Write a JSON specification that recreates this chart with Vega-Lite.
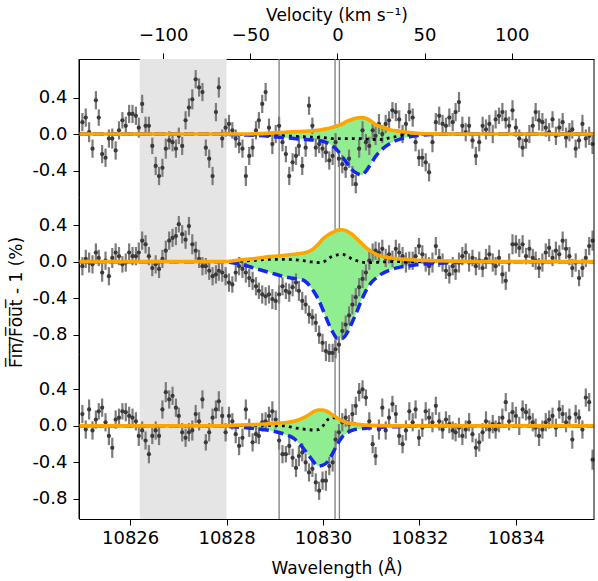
{
"$schema": "https://vega.github.io/schema/vega-lite/v6.json",
"autosize": {"type": "pad"},
"padding": {"left": 6, "top": 6, "right": 3, "bottom": 3},
"background": "white",
"spacing": 0,
"bounds": "flush",
"config": {
  "view": {"stroke": null},
  "font": "DejaVu Sans",
  "axis": {"grid": false, "domainColor": "black", "tickColor": "black", "labelColor": "black", "titleColor": "black", "labelFontSize": 18, "titleFontSize": 17, "titleFontWeight": "normal", "tickSize": 6, "domainWidth": 1, "tickWidth": 1, "labelFont": "DejaVu Sans", "titleFont": "DejaVu Sans", "labelFlush": false}
},
"datasets": {
  "band": [{"w": 10826.2, "w2": 10828.0}],
  "lines": [{"w": 10829.09}, {"w": 10830.25}, {"w": 10830.34}],
  "frame": [{"w": 10824.94}, {"w": 10835.62}],
  "vel": [{"v": -148.37}, {"v": 147.26}],
  "mod": [
    {"w":10824.94,"io":0,"ib":0,"ik":0,"mo":0,"mb":0,"mk":0,"eo":0,"eb":0,"ek":0},
    {"w":10826.0,"io":0,"ib":0,"ik":0,"mo":0,"mb":0,"mk":0,"eo":0,"eb":0,"ek":0},
    {"w":10827.0,"io":0,"ib":0,"ik":0,"mo":0,"mb":0,"mk":0,"eo":0,"eb":0,"ek":0},
    {"w":10827.9,"io":0,"ib":0,"ik":0,"mo":0,"mb":0,"mk":0,"eo":0,"eb":0,"ek":0},
    {"w":10828.0,"io":0,"ib":-0.003,"ik":0,"mo":0.002,"mb":-0.005,"mk":0,"eo":0.002,"eb":-0.005,"ek":0},
    {"w":10828.3,"io":0,"ib":-0.01,"ik":-0.005,"mo":0.02,"mb":-0.03,"mk":0.005,"eo":0.01,"eb":-0.015,"ek":0.005},
    {"w":10828.6,"io":0.003,"ib":-0.015,"ik":-0.01,"mo":0.035,"mb":-0.075,"mk":0.015,"eo":0.015,"eb":-0.03,"ek":0.005},
    {"w":10828.9,"io":0.01,"ib":-0.025,"ik":-0.015,"mo":0.055,"mb":-0.12,"mk":0.025,"eo":0.025,"eb":-0.05,"ek":0.005},
    {"w":10829.2,"io":0.02,"ib":-0.04,"ik":-0.02,"mo":0.07,"mb":-0.165,"mk":0.025,"eo":0.035,"eb":-0.09,"ek":0},
    {"w":10829.4,"io":0.025,"ib":-0.05,"ik":-0.025,"mo":0.08,"mb":-0.185,"mk":0.02,"eo":0.05,"eb":-0.14,"ek":-0.02},
    {"w":10829.6,"io":0.03,"ib":-0.06,"ik":-0.03,"mo":0.095,"mb":-0.205,"mk":0.01,"eo":0.09,"eb":-0.25,"ek":-0.035},
    {"w":10829.7,"io":0.032,"ib":-0.062,"ik":-0.032,"mo":0.11,"mb":-0.25,"mk":0,"eo":0.12,"eb":-0.32,"ek":-0.04},
    {"w":10829.8,"io":0.035,"ib":-0.065,"ik":-0.035,"mo":0.14,"mb":-0.32,"mk":-0.005,"eo":0.155,"eb":-0.39,"ek":-0.045},
    {"w":10829.9,"io":0.042,"ib":-0.07,"ik":-0.037,"mo":0.19,"mb":-0.41,"mk":-0.01,"eo":0.175,"eb":-0.44,"ek":-0.04},
    {"w":10830.0,"io":0.05,"ib":-0.08,"ik":-0.04,"mo":0.25,"mb":-0.53,"mk":-0.005,"eo":0.175,"eb":-0.43,"ek":0},
    {"w":10830.1,"io":0.06,"ib":-0.1,"ik":-0.045,"mo":0.29,"mb":-0.66,"mk":0.03,"eo":0.155,"eb":-0.39,"ek":0.07},
    {"w":10830.2,"io":0.075,"ib":-0.13,"ik":-0.05,"mo":0.32,"mb":-0.77,"mk":0.06,"eo":0.12,"eb":-0.3,"ek":0.09},
    {"w":10830.3,"io":0.09,"ib":-0.18,"ik":-0.05,"mo":0.345,"mb":-0.84,"mk":0.075,"eo":0.085,"eb":-0.2,"ek":0.08},
    {"w":10830.4,"io":0.11,"ib":-0.25,"ik":-0.05,"mo":0.35,"mb":-0.84,"mk":0.08,"eo":0.055,"eb":-0.12,"ek":0.06},
    {"w":10830.5,"io":0.14,"ib":-0.32,"ik":-0.05,"mo":0.335,"mb":-0.78,"mk":0.06,"eo":0.035,"eb":-0.075,"ek":0.045},
    {"w":10830.6,"io":0.16,"ib":-0.39,"ik":-0.05,"mo":0.3,"mb":-0.67,"mk":0.03,"eo":0.025,"eb":-0.05,"ek":0.03},
    {"w":10830.7,"io":0.175,"ib":-0.43,"ik":-0.05,"mo":0.25,"mb":-0.55,"mk":0.01,"eo":0.018,"eb":-0.035,"ek":0.022},
    {"w":10830.8,"io":0.18,"ib":-0.45,"ik":-0.05,"mo":0.2,"mb":-0.42,"mk":-0.005,"eo":0.012,"eb":-0.03,"ek":0.015},
    {"w":10830.9,"io":0.17,"ib":-0.4,"ik":-0.055,"mo":0.15,"mb":-0.31,"mk":-0.01,"eo":0.009,"eb":-0.025,"ek":0.01},
    {"w":10831.0,"io":0.14,"ib":-0.32,"ik":-0.06,"mo":0.11,"mb":-0.23,"mk":-0.01,"eo":0.006,"eb":-0.02,"ek":0.005},
    {"w":10831.1,"io":0.1,"ib":-0.24,"ik":-0.06,"mo":0.08,"mb":-0.18,"mk":-0.008,"eo":0.004,"eb":-0.017,"ek":0.003},
    {"w":10831.2,"io":0.08,"ib":-0.18,"ik":-0.06,"mo":0.06,"mb":-0.14,"mk":-0.005,"eo":0.003,"eb":-0.015,"ek":0.002},
    {"w":10831.4,"io":0.045,"ib":-0.1,"ik":-0.04,"mo":0.04,"mb":-0.09,"mk":0,"eo":0,"eb":-0.01,"ek":0},
    {"w":10831.6,"io":0.03,"ib":-0.055,"ik":-0.02,"mo":0.03,"mb":-0.06,"mk":0,"eo":0,"eb":-0.007,"ek":0},
    {"w":10831.8,"io":0.015,"ib":-0.03,"ik":-0.01,"mo":0.02,"mb":-0.045,"mk":0,"eo":0,"eb":-0.004,"ek":0},
    {"w":10832.0,"io":0.006,"ib":-0.015,"ik":0,"mo":0.015,"mb":-0.03,"mk":0,"eo":0,"eb":0,"ek":0},
    {"w":10832.3,"io":0.002,"ib":-0.005,"ik":0,"mo":0.01,"mb":-0.02,"mk":0,"eo":0,"eb":0,"ek":0},
    {"w":10832.7,"io":0,"ib":0,"ik":0,"mo":0.005,"mb":-0.01,"mk":0,"eo":0,"eb":0,"ek":0},
    {"w":10833.2,"io":0,"ib":0,"ik":0,"mo":0,"mb":-0.005,"mk":0,"eo":0,"eb":0,"ek":0},
    {"w":10834.0,"io":0,"ib":0,"ik":0,"mo":0,"mb":0,"mk":0,"eo":0,"eb":0,"ek":0},
    {"w":10835.62,"io":0,"ib":0,"ik":0,"mo":0,"mb":0,"mk":0,"eo":0,"eb":0,"ek":0}
  ],
  "obs": [
    {"w":10825.01,"ing":0.13,"mid":-0.05,"egr":0.13,"e":0.1},
    {"w":10825.08,"ing":0.18,"mid":0.03,"egr":-0.04,"e":0.1},
    {"w":10825.15,"ing":0.02,"mid":-0.01,"egr":0.18,"e":0.11},
    {"w":10825.22,"ing":-0.16,"mid":-0.03,"egr":-0.05,"e":0.1},
    {"w":10825.29,"ing":0.37,"mid":0.1,"egr":0.07,"e":0.1},
    {"w":10825.35,"ing":0.18,"mid":0.04,"egr":0.16,"e":0.09},
    {"w":10825.42,"ing":-0.22,"mid":-0.12,"egr":0.2,"e":0.1},
    {"w":10825.49,"ing":-0.26,"mid":0.01,"egr":0.04,"e":0.1},
    {"w":10825.56,"ing":-0.05,"mid":-0.16,"egr":-0.11,"e":0.1},
    {"w":10825.63,"ing":-0.05,"mid":0.04,"egr":-0.24,"e":0.11},
    {"w":10825.70,"ing":-0.18,"mid":0.1,"egr":0.07,"e":0.1},
    {"w":10825.77,"ing":0.04,"mid":0.06,"egr":0.09,"e":0.1},
    {"w":10825.84,"ing":0.15,"mid":-0.03,"egr":0.16,"e":0.09},
    {"w":10825.91,"ing":0.09,"mid":-0.01,"egr":0.15,"e":0.1},
    {"w":10825.98,"ing":0.22,"mid":0.1,"egr":0.11,"e":0.1},
    {"w":10826.05,"ing":0.22,"mid":0.06,"egr":0.09,"e":0.1},
    {"w":10826.12,"ing":0.2,"mid":0.06,"egr":0.05,"e":0.1},
    {"w":10826.18,"ing":0.07,"mid":0.1,"egr":-0.11,"e":0.11},
    {"w":10826.25,"ing":0.33,"mid":0.23,"egr":-0.05,"e":0.1},
    {"w":10826.32,"ing":0.09,"mid":0.19,"egr":-0.16,"e":0.1},
    {"w":10826.39,"ing":0.09,"mid":0.06,"egr":-0.31,"e":0.1},
    {"w":10826.46,"ing":-0.13,"mid":-0.07,"egr":-0.11,"e":0.09},
    {"w":10826.53,"ing":-0.35,"mid":-0.03,"egr":-0.05,"e":0.1},
    {"w":10826.60,"ing":-0.46,"mid":-0.08,"egr":-0.11,"e":0.1},
    {"w":10826.67,"ing":-0.37,"mid":0.03,"egr":0.18,"e":0.1},
    {"w":10826.74,"ing":-0.16,"mid":0.12,"egr":0.37,"e":0.11},
    {"w":10826.81,"ing":-0.07,"mid":0.23,"egr":0.29,"e":0.1},
    {"w":10826.88,"ing":-0.09,"mid":0.26,"egr":0.33,"e":0.1},
    {"w":10826.95,"ing":-0.16,"mid":0.28,"egr":0.2,"e":0.1},
    {"w":10827.01,"ing":-0.02,"mid":0.41,"egr":0.11,"e":0.09},
    {"w":10827.08,"ing":-0.13,"mid":0.3,"egr":-0.07,"e":0.1},
    {"w":10827.15,"ing":0.15,"mid":0.24,"egr":-0.13,"e":0.1},
    {"w":10827.22,"ing":0.29,"mid":0.39,"egr":-0.07,"e":0.1},
    {"w":10827.29,"ing":0.38,"mid":0.19,"egr":-0.05,"e":0.11},
    {"w":10827.36,"ing":0.6,"mid":0.12,"egr":0.13,"e":0.1},
    {"w":10827.43,"ing":0.51,"mid":0.03,"egr":0.05,"e":0.1},
    {"w":10827.50,"ing":0.46,"mid":-0.05,"egr":0.29,"e":0.1},
    {"w":10827.57,"ing":-0.15,"mid":-0.05,"egr":-0.18,"e":0.09},
    {"w":10827.64,"ing":-0.27,"mid":-0.1,"egr":-0.07,"e":0.1},
    {"w":10827.71,"ing":-0.46,"mid":-0.16,"egr":0.09,"e":0.1},
    {"w":10827.78,"ing":0.24,"mid":-0.14,"egr":0.18,"e":0.1},
    {"w":10827.84,"ing":0.51,"mid":-0.1,"egr":0.27,"e":0.11},
    {"w":10827.91,"ing":-0.05,"mid":-0.12,"egr":0.11,"e":0.1},
    {"w":10827.98,"ing":0.07,"mid":-0.16,"egr":-0.07,"e":0.1},
    {"w":10828.05,"ing":0.11,"mid":-0.23,"egr":0.11,"e":0.1},
    {"w":10828.12,"ing":0.04,"mid":-0.25,"egr":0.05,"e":0.09},
    {"w":10828.19,"ing":-0.05,"mid":-0.12,"egr":-0.09,"e":0.1},
    {"w":10828.26,"ing":-0.11,"mid":-0.05,"egr":-0.22,"e":0.1},
    {"w":10828.33,"ing":-0.16,"mid":-0.08,"egr":-0.13,"e":0.1},
    {"w":10828.40,"ing":-0.46,"mid":-0.12,"egr":0.18,"e":0.11},
    {"w":10828.47,"ing":-0.24,"mid":-0.18,"egr":-0.02,"e":0.1},
    {"w":10828.54,"ing":-0.15,"mid":-0.21,"egr":-0.18,"e":0.1},
    {"w":10828.61,"ing":0.04,"mid":-0.27,"egr":-0.09,"e":0.1},
    {"w":10828.67,"ing":0.15,"mid":-0.32,"egr":-0.11,"e":0.09},
    {"w":10828.74,"ing":0.33,"mid":-0.36,"egr":0.04,"e":0.1},
    {"w":10828.81,"ing":0.46,"mid":-0.38,"egr":0.05,"e":0.1},
    {"w":10828.88,"ing":0.07,"mid":-0.36,"egr":0.11,"e":0.1},
    {"w":10828.95,"ing":-0.11,"mid":-0.41,"egr":0.16,"e":0.11},
    {"w":10829.02,"ing":0.0,"mid":-0.43,"egr":0.07,"e":0.1},
    {"w":10829.09,"ing":0.09,"mid":-0.36,"egr":-0.16,"e":0.1},
    {"w":10829.16,"ing":-0.09,"mid":-0.27,"egr":-0.31,"e":0.1},
    {"w":10829.23,"ing":-0.22,"mid":-0.32,"egr":-0.31,"e":0.09},
    {"w":10829.30,"ing":-0.46,"mid":-0.34,"egr":-0.22,"e":0.1},
    {"w":10829.37,"ing":-0.31,"mid":-0.28,"egr":-0.35,"e":0.1},
    {"w":10829.44,"ing":-0.24,"mid":-0.23,"egr":-0.46,"e":0.1},
    {"w":10829.50,"ing":-0.13,"mid":-0.32,"egr":-0.33,"e":0.11},
    {"w":10829.57,"ing":-0.35,"mid":-0.43,"egr":-0.29,"e":0.1},
    {"w":10829.64,"ing":-0.15,"mid":-0.47,"egr":-0.4,"e":0.1},
    {"w":10829.71,"ing":0.31,"mid":-0.58,"egr":-0.51,"e":0.1},
    {"w":10829.78,"ing":0.09,"mid":-0.61,"egr":-0.47,"e":0.09},
    {"w":10829.85,"ing":-0.15,"mid":-0.67,"egr":-0.62,"e":0.1},
    {"w":10829.92,"ing":-0.11,"mid":-0.8,"egr":-0.71,"e":0.1},
    {"w":10829.99,"ing":-0.16,"mid":-0.89,"egr":-0.6,"e":0.1},
    {"w":10830.06,"ing":-0.2,"mid":-0.98,"egr":-0.6,"e":0.11},
    {"w":10830.13,"ing":-0.29,"mid":-1.0,"egr":-0.44,"e":0.1},
    {"w":10830.20,"ing":-0.24,"mid":-1.0,"egr":-0.4,"e":0.1},
    {"w":10830.26,"ing":-0.09,"mid":-0.96,"egr":-0.15,"e":0.1},
    {"w":10830.33,"ing":-0.27,"mid":-0.91,"egr":-0.07,"e":0.09},
    {"w":10830.40,"ing":-0.33,"mid":-0.76,"egr":0.04,"e":0.1},
    {"w":10830.47,"ing":-0.38,"mid":-0.69,"egr":0.09,"e":0.1},
    {"w":10830.54,"ing":-0.27,"mid":-0.59,"egr":0.02,"e":0.1},
    {"w":10830.61,"ing":-0.46,"mid":-0.47,"egr":0.13,"e":0.11},
    {"w":10830.68,"ing":-0.55,"mid":-0.39,"egr":0.22,"e":0.1},
    {"w":10830.75,"ing":-0.16,"mid":-0.28,"egr":0.37,"e":0.1},
    {"w":10830.82,"ing":0.04,"mid":-0.19,"egr":0.4,"e":0.1},
    {"w":10830.89,"ing":-0.09,"mid":-0.12,"egr":0.31,"e":0.09},
    {"w":10830.96,"ing":-0.13,"mid":0.01,"egr":0.05,"e":0.1},
    {"w":10831.03,"ing":0.04,"mid":0.1,"egr":-0.2,"e":0.1},
    {"w":10831.09,"ing":-0.02,"mid":0.12,"egr":-0.33,"e":0.1},
    {"w":10831.16,"ing":0.11,"mid":0.1,"egr":-0.04,"e":0.11},
    {"w":10831.23,"ing":0.0,"mid":0.14,"egr":0.2,"e":0.1},
    {"w":10831.30,"ing":0.11,"mid":0.04,"egr":-0.05,"e":0.1},
    {"w":10831.37,"ing":0.15,"mid":0.08,"egr":0.09,"e":0.1},
    {"w":10831.44,"ing":0.26,"mid":0.03,"egr":0.24,"e":0.09},
    {"w":10831.51,"ing":0.24,"mid":0.14,"egr":0.13,"e":0.1},
    {"w":10831.58,"ing":0.16,"mid":0.1,"egr":-0.11,"e":0.1},
    {"w":10831.65,"ing":0.0,"mid":0.06,"egr":-0.2,"e":0.1},
    {"w":10831.72,"ing":0.11,"mid":-0.01,"egr":-0.05,"e":0.11},
    {"w":10831.79,"ing":0.24,"mid":0.01,"egr":0.16,"e":0.1},
    {"w":10831.86,"ing":0.18,"mid":0.01,"egr":0.04,"e":0.1},
    {"w":10831.92,"ing":-0.09,"mid":0.06,"egr":0.18,"e":0.1},
    {"w":10831.99,"ing":-0.26,"mid":0.17,"egr":-0.13,"e":0.09},
    {"w":10832.06,"ing":-0.26,"mid":0.08,"egr":-0.02,"e":0.1},
    {"w":10832.13,"ing":-0.31,"mid":-0.01,"egr":0.16,"e":0.1},
    {"w":10832.20,"ing":-0.42,"mid":-0.05,"egr":0.09,"e":0.1},
    {"w":10832.27,"ing":-0.09,"mid":-0.01,"egr":0.04,"e":0.11},
    {"w":10832.34,"ing":0.13,"mid":0.17,"egr":0.22,"e":0.1},
    {"w":10832.41,"ing":0.2,"mid":0.04,"egr":0.05,"e":0.1},
    {"w":10832.48,"ing":0.11,"mid":-0.01,"egr":-0.04,"e":0.1},
    {"w":10832.55,"ing":0.09,"mid":-0.1,"egr":0.07,"e":0.09},
    {"w":10832.62,"ing":0.18,"mid":-0.14,"egr":0.02,"e":0.1},
    {"w":10832.69,"ing":0.13,"mid":-0.05,"egr":-0.05,"e":0.1},
    {"w":10832.75,"ing":0.24,"mid":-0.1,"egr":-0.07,"e":0.1},
    {"w":10832.82,"ing":0.35,"mid":-0.01,"egr":-0.02,"e":0.11},
    {"w":10832.89,"ing":0.09,"mid":0.06,"egr":-0.11,"e":0.1},
    {"w":10832.96,"ing":0.02,"mid":0.1,"egr":-0.04,"e":0.1},
    {"w":10833.03,"ing":0.09,"mid":-0.01,"egr":0.04,"e":0.1},
    {"w":10833.10,"ing":-0.07,"mid":0.04,"egr":-0.09,"e":0.09},
    {"w":10833.17,"ing":-0.24,"mid":-0.05,"egr":-0.24,"e":0.1},
    {"w":10833.24,"ing":-0.09,"mid":0.01,"egr":-0.18,"e":0.1},
    {"w":10833.31,"ing":0.09,"mid":-0.07,"egr":-0.07,"e":0.1},
    {"w":10833.38,"ing":0.05,"mid":0.03,"egr":0.05,"e":0.11},
    {"w":10833.45,"ing":0.11,"mid":0.08,"egr":-0.04,"e":0.1},
    {"w":10833.52,"ing":0.0,"mid":-0.01,"egr":0.02,"e":0.1},
    {"w":10833.58,"ing":0.16,"mid":-0.05,"egr":-0.04,"e":0.1},
    {"w":10833.65,"ing":0.2,"mid":0.04,"egr":0.02,"e":0.09},
    {"w":10833.72,"ing":0.24,"mid":-0.14,"egr":0.09,"e":0.1},
    {"w":10833.79,"ing":0.16,"mid":-0.21,"egr":0.26,"e":0.1},
    {"w":10833.86,"ing":0.09,"mid":-0.01,"egr":0.05,"e":0.1},
    {"w":10833.93,"ing":0.26,"mid":0.19,"egr":0.15,"e":0.11},
    {"w":10834.00,"ing":0.07,"mid":0.19,"egr":0.11,"e":0.1},
    {"w":10834.07,"ing":-0.05,"mid":0.15,"egr":0.0,"e":0.1},
    {"w":10834.14,"ing":-0.15,"mid":0.19,"egr":0.18,"e":0.1},
    {"w":10834.21,"ing":-0.07,"mid":0.06,"egr":0.15,"e":0.09},
    {"w":10834.28,"ing":0.0,"mid":0.14,"egr":0.09,"e":0.1},
    {"w":10834.35,"ing":0.09,"mid":0.04,"egr":0.04,"e":0.1},
    {"w":10834.41,"ing":0.24,"mid":0.01,"egr":-0.02,"e":0.1},
    {"w":10834.48,"ing":0.15,"mid":-0.07,"egr":-0.11,"e":0.11},
    {"w":10834.55,"ing":0.13,"mid":-0.01,"egr":-0.04,"e":0.1},
    {"w":10834.62,"ing":0.07,"mid":0.1,"egr":0.04,"e":0.1},
    {"w":10834.69,"ing":0.02,"mid":0.15,"egr":0.07,"e":0.1},
    {"w":10834.76,"ing":0.16,"mid":0.04,"egr":0.11,"e":0.09},
    {"w":10834.83,"ing":-0.02,"mid":0.12,"egr":-0.02,"e":0.1},
    {"w":10834.90,"ing":0.07,"mid":0.08,"egr":0.18,"e":0.1},
    {"w":10834.97,"ing":0.13,"mid":0.23,"egr":0.13,"e":0.1},
    {"w":10835.04,"ing":-0.04,"mid":0.14,"egr":0.04,"e":0.11},
    {"w":10835.11,"ing":0.02,"mid":0.06,"egr":0.09,"e":0.1},
    {"w":10835.17,"ing":0.05,"mid":-0.07,"egr":-0.15,"e":0.1},
    {"w":10835.24,"ing":-0.16,"mid":-0.01,"egr":0.13,"e":0.1},
    {"w":10835.31,"ing":-0.07,"mid":-0.18,"egr":0.09,"e":0.09},
    {"w":10835.38,"ing":0.11,"mid":-0.07,"egr":-0.04,"e":0.1},
    {"w":10835.45,"ing":-0.05,"mid":0.04,"egr":0.31,"e":0.1},
    {"w":10835.52,"ing":-0.02,"mid":0.17,"egr":0.26,"e":0.1},
    {"w":10835.59,"ing":-0.11,"mid":0.23,"egr":-0.37,"e":0.11}
  ]
},
"vconcat": [
  {
    "width": 515, "height": 138,
    "resolve": {"scale": {"x": "independent"}},
    "layer": [
      {
        "encoding": {"x": {"field": "w", "type": "quantitative", "scale": {"domain": [10824.94, 10835.62], "nice": false, "zero": false}, "axis": null}},
        "layer": [
          {"data": {"name": "band"}, "mark": {"type": "rect", "color": "#e5e5e5"}, "encoding": {"x2": {"field": "w2"}}},
          {"data": {"name": "lines"}, "mark": {"type": "rule", "color": "#7f7f7f", "strokeWidth": 1.3}, "encoding": {}},
          {"data": {"name": "mod"}, "mark": {"type": "area", "color": "#90ee90", "interpolate": "monotone"}, "encoding": {"y": {"field": "io", "type": "quantitative", "scale": {"domain": [-0.69, 0.822], "nice": false, "zero": false}, "axis": {"values": [0.4, 0, -0.4], "labelExpr": "replace(format(datum.value, '.1f'), '−', '-')", "title": null, "labelPadding": 6}}, "y2": {"field": "ib"}}},
          {"data": {"name": "obs"}, "mark": {"type": "errorbar", "color": "#7c7c7c", "thickness": 2.2, "ticks": false}, "encoding": {"y": {"field": "ing", "type": "quantitative", "scale": {"domain": [-0.69, 0.822], "nice": false, "zero": false}, "axis": {"values": [0.4, 0, -0.4], "labelExpr": "replace(format(datum.value, '.1f'), '−', '-')", "title": null, "labelPadding": 6}}, "yError": {"field": "e"}}},
          {"data": {"name": "obs"}, "mark": {"type": "circle", "color": "#3a3a3a", "size": 18, "opacity": 1}, "encoding": {"y": {"field": "ing", "type": "quantitative", "scale": {"domain": [-0.69, 0.822], "nice": false, "zero": false}, "axis": {"values": [0.4, 0, -0.4], "labelExpr": "replace(format(datum.value, '.1f'), '−', '-')", "title": null, "labelPadding": 6}}}},
          {"data": {"name": "mod"}, "mark": {"type": "line", "color": "black", "strokeWidth": 2.8, "strokeDash": [2.8, 4.2], "interpolate": "monotone"}, "encoding": {"y": {"field": "ik", "type": "quantitative", "scale": {"domain": [-0.69, 0.822], "nice": false, "zero": false}, "axis": {"values": [0.4, 0, -0.4], "labelExpr": "replace(format(datum.value, '.1f'), '−', '-')", "title": null, "labelPadding": 6}}}},
          {"data": {"name": "mod"}, "mark": {"type": "line", "color": "#1626f0", "strokeWidth": 3.5, "strokeDash": [10, 5], "interpolate": "monotone"}, "encoding": {"y": {"field": "ib", "type": "quantitative", "scale": {"domain": [-0.69, 0.822], "nice": false, "zero": false}, "axis": {"values": [0.4, 0, -0.4], "labelExpr": "replace(format(datum.value, '.1f'), '−', '-')", "title": null, "labelPadding": 6}}}},
          {"data": {"name": "mod"}, "mark": {"type": "line", "color": "#ffa500", "strokeWidth": 3.6, "interpolate": "monotone"}, "encoding": {"y": {"field": "io", "type": "quantitative", "scale": {"domain": [-0.69, 0.822], "nice": false, "zero": false}, "axis": {"values": [0.4, 0, -0.4], "labelExpr": "replace(format(datum.value, '.1f'), '−', '-')", "title": null, "labelPadding": 6}}}},
          {"data": {"values": [{"t": "ingress"}]}, "mark": {"type": "text", "align": "left", "baseline": "middle", "fontSize": 18, "color": "black"}, "encoding": {"x": {"datum": 10825.29, "type": "quantitative"}, "y": {"datum": 0.63, "type": "quantitative", "scale": {"domain": [-0.69, 0.822], "nice": false, "zero": false}, "axis": {"values": [0.4, 0, -0.4], "labelExpr": "replace(format(datum.value, '.1f'), '−', '-')", "title": null, "labelPadding": 6}}, "text": {"field": "t"}}},
          {"data": {"name": "frame"}, "mark": {"type": "rule", "color": "black", "strokeWidth": 1}, "encoding": {}}
        ]
      },
      {"data": {"name": "vel"}, "mark": {"type": "point", "opacity": 0}, "encoding": {"x": {"field": "v", "type": "quantitative", "scale": {"domain": [-148.37, 147.26], "nice": false, "zero": false}, "axis": {"orient": "top", "values": [-100, -50, 0, 50, 100], "format": "d", "title": "Velocity (km s⁻¹)", "labelPadding": 9, "titlePadding": 2}}}}
    ]
  },
  {
    "width": 515, "height": 157,
    "encoding": {"x": {"field": "w", "type": "quantitative", "scale": {"domain": [10824.94, 10835.62], "nice": false, "zero": false}, "axis": null}},
    "layer": [
      {"data": {"name": "band"}, "mark": {"type": "rect", "color": "#e5e5e5"}, "encoding": {"x2": {"field": "w2"}}},
      {"data": {"name": "lines"}, "mark": {"type": "rule", "color": "#7f7f7f", "strokeWidth": 1.3}, "encoding": {}},
      {"data": {"name": "mod"}, "mark": {"type": "area", "color": "#90ee90", "interpolate": "monotone"}, "encoding": {"y": {"field": "mo", "type": "quantitative", "scale": {"domain": [-1.012, 0.708], "nice": false, "zero": false}, "axis": {"values": [0.4, 0, -0.4, -0.8], "labelExpr": "replace(format(datum.value, '.1f'), '−', '-')", "title": "F̅i̅n̅/̅F̅o̅u̅t̅ - 1 (%)", "titleX": -54, "titleY": 105, "labelPadding": 6}}, "y2": {"field": "mb"}}},
      {"data": {"name": "obs"}, "mark": {"type": "errorbar", "color": "#7c7c7c", "thickness": 2.2, "ticks": false}, "encoding": {"y": {"field": "mid", "type": "quantitative", "scale": {"domain": [-1.012, 0.708], "nice": false, "zero": false}, "axis": {"values": [0.4, 0, -0.4, -0.8], "labelExpr": "replace(format(datum.value, '.1f'), '−', '-')", "title": "F̅i̅n̅/̅F̅o̅u̅t̅ - 1 (%)", "titleX": -54, "titleY": 105, "labelPadding": 6}}, "yError": {"field": "e"}}},
      {"data": {"name": "obs"}, "mark": {"type": "circle", "color": "#3a3a3a", "size": 18, "opacity": 1}, "encoding": {"y": {"field": "mid", "type": "quantitative", "scale": {"domain": [-1.012, 0.708], "nice": false, "zero": false}, "axis": {"values": [0.4, 0, -0.4, -0.8], "labelExpr": "replace(format(datum.value, '.1f'), '−', '-')", "title": "F̅i̅n̅/̅F̅o̅u̅t̅ - 1 (%)", "titleX": -54, "titleY": 105, "labelPadding": 6}}}},
      {"data": {"name": "mod"}, "mark": {"type": "line", "color": "black", "strokeWidth": 2.8, "strokeDash": [2.8, 4.2], "interpolate": "monotone"}, "encoding": {"y": {"field": "mk", "type": "quantitative", "scale": {"domain": [-1.012, 0.708], "nice": false, "zero": false}, "axis": {"values": [0.4, 0, -0.4, -0.8], "labelExpr": "replace(format(datum.value, '.1f'), '−', '-')", "title": "F̅i̅n̅/̅F̅o̅u̅t̅ - 1 (%)", "titleX": -54, "titleY": 105, "labelPadding": 6}}}},
      {"data": {"name": "mod"}, "mark": {"type": "line", "color": "#1626f0", "strokeWidth": 3.5, "strokeDash": [10, 5], "interpolate": "monotone"}, "encoding": {"y": {"field": "mb", "type": "quantitative", "scale": {"domain": [-1.012, 0.708], "nice": false, "zero": false}, "axis": {"values": [0.4, 0, -0.4, -0.8], "labelExpr": "replace(format(datum.value, '.1f'), '−', '-')", "title": "F̅i̅n̅/̅F̅o̅u̅t̅ - 1 (%)", "titleX": -54, "titleY": 105, "labelPadding": 6}}}},
      {"data": {"name": "mod"}, "mark": {"type": "line", "color": "#ffa500", "strokeWidth": 3.6, "interpolate": "monotone"}, "encoding": {"y": {"field": "mo", "type": "quantitative", "scale": {"domain": [-1.012, 0.708], "nice": false, "zero": false}, "axis": {"values": [0.4, 0, -0.4, -0.8], "labelExpr": "replace(format(datum.value, '.1f'), '−', '-')", "title": "F̅i̅n̅/̅F̅o̅u̅t̅ - 1 (%)", "titleX": -54, "titleY": 105, "labelPadding": 6}}}},
      {"data": {"values": [{"t": "mid-transit"}]}, "mark": {"type": "text", "align": "left", "baseline": "middle", "fontSize": 18, "color": "black"}, "encoding": {"x": {"datum": 10825.29, "type": "quantitative"}, "y": {"datum": 0.63, "type": "quantitative", "scale": {"domain": [-1.012, 0.708], "nice": false, "zero": false}, "axis": {"values": [0.4, 0, -0.4, -0.8], "labelExpr": "replace(format(datum.value, '.1f'), '−', '-')", "title": "F̅i̅n̅/̅F̅o̅u̅t̅ - 1 (%)", "titleX": -54, "titleY": 105, "labelPadding": 6}}, "text": {"field": "t"}}},
      {"data": {"name": "frame"}, "mark": {"type": "rule", "color": "black", "strokeWidth": 1}, "encoding": {}}
    ]
  },
  {
    "width": 515, "height": 165,
    "encoding": {"x": {"field": "w", "type": "quantitative", "scale": {"domain": [10824.94, 10835.62], "nice": false, "zero": false}, "axis": {"values": [10826, 10828, 10830, 10832, 10834], "format": "d", "title": "Wavelength (Å)", "labelPadding": 4.5, "titlePadding": 13}}},
    "layer": [
      {"data": {"name": "band"}, "mark": {"type": "rect", "color": "#e5e5e5"}, "encoding": {"x2": {"field": "w2"}}},
      {"data": {"name": "lines"}, "mark": {"type": "rule", "color": "#7f7f7f", "strokeWidth": 1.3}, "encoding": {}},
      {"data": {"name": "mod"}, "mark": {"type": "area", "color": "#90ee90", "interpolate": "monotone"}, "encoding": {"y": {"field": "eo", "type": "quantitative", "scale": {"domain": [-1.02, 0.788], "nice": false, "zero": false}, "axis": {"values": [0.4, 0, -0.4, -0.8], "labelExpr": "replace(format(datum.value, '.1f'), '−', '-')", "title": null, "labelPadding": 6}}, "y2": {"field": "eb"}}},
      {"data": {"name": "obs"}, "mark": {"type": "errorbar", "color": "#7c7c7c", "thickness": 2.2, "ticks": false}, "encoding": {"y": {"field": "egr", "type": "quantitative", "scale": {"domain": [-1.02, 0.788], "nice": false, "zero": false}, "axis": {"values": [0.4, 0, -0.4, -0.8], "labelExpr": "replace(format(datum.value, '.1f'), '−', '-')", "title": null, "labelPadding": 6}}, "yError": {"field": "e"}}},
      {"data": {"name": "obs"}, "mark": {"type": "circle", "color": "#3a3a3a", "size": 18, "opacity": 1}, "encoding": {"y": {"field": "egr", "type": "quantitative", "scale": {"domain": [-1.02, 0.788], "nice": false, "zero": false}, "axis": {"values": [0.4, 0, -0.4, -0.8], "labelExpr": "replace(format(datum.value, '.1f'), '−', '-')", "title": null, "labelPadding": 6}}}},
      {"data": {"name": "mod"}, "mark": {"type": "line", "color": "black", "strokeWidth": 2.8, "strokeDash": [2.8, 4.2], "interpolate": "monotone"}, "encoding": {"y": {"field": "ek", "type": "quantitative", "scale": {"domain": [-1.02, 0.788], "nice": false, "zero": false}, "axis": {"values": [0.4, 0, -0.4, -0.8], "labelExpr": "replace(format(datum.value, '.1f'), '−', '-')", "title": null, "labelPadding": 6}}}},
      {"data": {"name": "mod"}, "mark": {"type": "line", "color": "#1626f0", "strokeWidth": 3.5, "strokeDash": [10, 5], "interpolate": "monotone"}, "encoding": {"y": {"field": "eb", "type": "quantitative", "scale": {"domain": [-1.02, 0.788], "nice": false, "zero": false}, "axis": {"values": [0.4, 0, -0.4, -0.8], "labelExpr": "replace(format(datum.value, '.1f'), '−', '-')", "title": null, "labelPadding": 6}}}},
      {"data": {"name": "mod"}, "mark": {"type": "line", "color": "#ffa500", "strokeWidth": 3.6, "interpolate": "monotone"}, "encoding": {"y": {"field": "eo", "type": "quantitative", "scale": {"domain": [-1.02, 0.788], "nice": false, "zero": false}, "axis": {"values": [0.4, 0, -0.4, -0.8], "labelExpr": "replace(format(datum.value, '.1f'), '−', '-')", "title": null, "labelPadding": 6}}}},
      {"data": {"values": [{"t": "egress"}]}, "mark": {"type": "text", "align": "left", "baseline": "middle", "fontSize": 18, "color": "black"}, "encoding": {"x": {"datum": 10825.29, "type": "quantitative"}, "y": {"datum": 0.63, "type": "quantitative", "scale": {"domain": [-1.02, 0.788], "nice": false, "zero": false}, "axis": {"values": [0.4, 0, -0.4, -0.8], "labelExpr": "replace(format(datum.value, '.1f'), '−', '-')", "title": null, "labelPadding": 6}}, "text": {"field": "t"}}},
      {"data": {"name": "frame"}, "mark": {"type": "rule", "color": "black", "strokeWidth": 1}, "encoding": {}}
    ]
  }
]
}
